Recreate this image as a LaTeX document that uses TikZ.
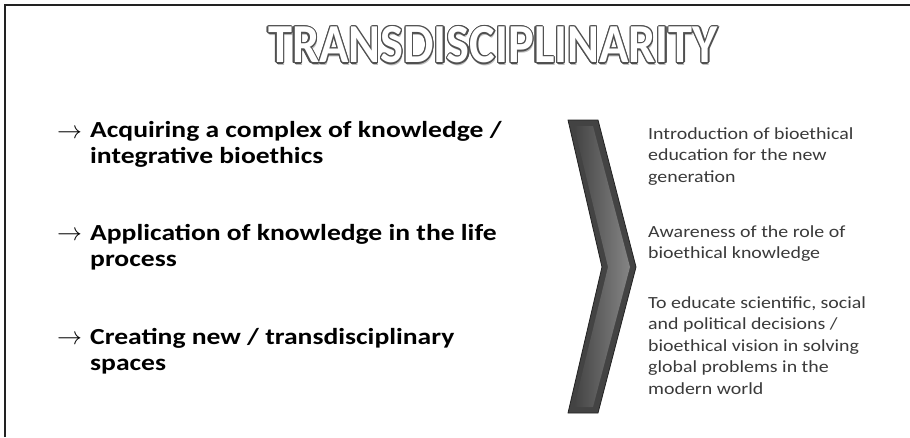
\documentclass[tikz,border=0pt]{standalone}
\usepackage{fontspec}
\setmainfont{Carlito}
\newfontfamily\titlefont[FakeStretch=0.88]{Carlito}
\newfontfamily\itemfont[FakeStretch=1.20]{Carlito}
\newfontfamily\notefont[FakeStretch=1.17]{Carlito}
\usepackage{xcolor}
\usepackage{tikz}
\usetikzlibrary{calc}
\definecolor{edge}{HTML}{222222}
\definecolor{rim}{HTML}{505050}
\definecolor{chevdark}{HTML}{434343}
\definecolor{chevlight}{HTML}{858585}
\definecolor{note}{HTML}{3A3A3A}

\begin{document}
\begin{tikzpicture}[x=1pt,y=-1pt,
  ttl/.style={inner sep=0pt,font=\titlefont\fontsize{55}{60}\selectfont\bfseries},
  itm/.style={anchor=north west,inner sep=0pt,align=left,
              font=\itemfont\fontsize{23}{26}\selectfont\bfseries},
  arr/.style={anchor=west,inner sep=0pt,font=\fontsize{23}{26}\selectfont},
  txt/.style={anchor=north west,inner sep=0pt,align=left,text=note,
              font=\notefont\fontsize{17}{21.5}\selectfont}]
\useasboundingbox (0,0) rectangle (910,437);
\fill[white] (0,0) rectangle (910,437);

\draw[edge,line width=1.6pt] (5,437) -- (5,5) -- (910,5);

\node[ttl,text=black!25] at (494,48) {TRANSDISCIPLINARITY};
\foreach \a in {0,30,...,330}
  \node[ttl,text=rim] at ($(493,45)+(\a:1.3)$) {TRANSDISCIPLINARITY};
\node[ttl,text=white] (title) at (493,45) {TRANSDISCIPLINARITY};

\node[arr] (b1) at (57,134) {$\rightarrow$};
\node[itm] (i1) at (90,121) {Acquiring a complex of knowledge /\\integrative bioethics};
\node[arr] (b2) at (57,236) {$\rightarrow$};
\node[itm] (i2) at (90,224) {Application of knowledge in the life\\process};
\node[arr] (b3) at (57,340) {$\rightarrow$};
\node[itm] (i3) at (90,328) {Creating new / transdisciplinary\\spaces};

\fill[chevdark,draw=edge,line width=0.8pt]
  (568,120) -- (598,120) -- (636,267) -- (598,413) -- (568,413) -- (602,267) -- cycle;
\shade[left color=chevdark,right color=chevlight]
  (574,126) -- (593,126) -- (630,267) -- (593,407) -- (574,407) -- (608,267) -- cycle;

\node[txt] (n1) at (648,127) {Introduction of bioethical\\education for the new\\generation};
\node[txt] (n2) at (648,225) {Awareness of the role of\\bioethical knowledge};
\node[txt] (n3) at (648,296) {To educate scientific, social\\and political decisions /\\bioethical vision in solving\\global problems in the\\modern world};
\end{tikzpicture}
\end{document}
